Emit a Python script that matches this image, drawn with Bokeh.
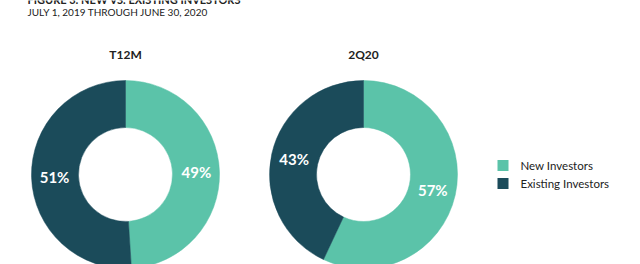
import math
from bokeh.plotting import figure
from bokeh.models import Range1d, ColumnDataSource
from bokeh.core.properties import value
from bokeh.embed import file_html
from bokeh.resources import INLINE

# ---- data ----
periods = ["T12M", "2Q20"]
new_investors = [49, 57]
existing_investors = [51, 43]
series_names = ["New Investors", "Existing Investors"]
title = "FIGURE 3: NEW VS. EXISTING INVESTORS"
subtitle = "JULY 1, 2019 THROUGH JUNE 30, 2020"

# ---- style / layout ----
W, H = 640, 264
NEW_C = "#5bc3a9"
EXIST_C = "#1b4b5a"
TEXT_C = "#222222"
FONT = "Lato"
centers_px = [(125, 174), (363, 174)]
R_OUT, R_IN = 94, 47
R_LBL = 71

def Y(py):
    return H - py

p = figure(width=W, height=H, x_range=Range1d(0, W), y_range=Range1d(0, H),
           output_backend="svg", toolbar_location=None, min_border=0,
           outline_line_color=None)
p.axis.visible = False
p.grid.visible = False
p.background_fill_color = "white"

wx, wy, s_ang, e_ang, cols = [], [], [], [], []
lx, ly, lt = [], [], []
for (cx, cy), nv, ev in zip(centers_px, new_investors, existing_investors):
    tot = nv + ev
    fn = nv / tot
    top = math.pi / 2
    wx += [cx, cx]; wy += [Y(cy), Y(cy)]
    s_ang += [top - fn * 2 * math.pi, top]
    e_ang += [top, top - fn * 2 * math.pi + 2 * math.pi]
    cols += [NEW_C, EXIST_C]
    m_new = top - fn * math.pi
    m_ex = top - fn * 2 * math.pi - (1 - fn) * math.pi
    for m, v in ((m_new, nv), (m_ex, ev)):
        lx.append(cx + R_LBL * math.cos(m))
        ly.append(Y(cy) + R_LBL * math.sin(m))
        lt.append(f"{v}%")

src = ColumnDataSource(dict(x=wx, y=wy, s=s_ang, e=e_ang, c=cols))
p.annular_wedge(x="x", y="y", inner_radius=R_IN, outer_radius=R_OUT,
                start_angle="s", end_angle="e", fill_color="c",
                line_color="c", line_width=0.5, source=src)

p.text(x=lx, y=ly, text=lt, text_color="white", text_font=value(FONT),
       text_font_style="bold", text_font_size="15px",
       text_align="center", text_baseline="middle")

# period titles
p.text(x=[c[0] for c in centers_px], y=[Y(54)] * 2, text=periods,
       text_color=TEXT_C, text_font=value(FONT), text_font_style="bold",
       text_font_size="12px", text_align="center", text_baseline="middle")

# figure title (cut off at the top edge, as in the reference) and subtitle
p.text(x=[27], y=[Y(5)], text=[title], text_color=TEXT_C, text_font=value(FONT),
       text_font_style="bold", text_font_size="11px", text_align="left",
       text_baseline="bottom")
p.text(x=[27], y=[Y(11)], text=[subtitle], text_color=TEXT_C, text_font=value(FONT),
       text_font_size="10px", text_align="left", text_baseline="middle")

# legend
leg_y = [165, 183]
p.rect(x=[502.5, 502.5], y=[Y(v) for v in leg_y], width=11, height=11,
       fill_color=[NEW_C, EXIST_C], line_color=None)
p.text(x=[520, 520], y=[Y(v) for v in leg_y], text=series_names,
       text_color=TEXT_C, text_font=value(FONT), text_font_size="11.5px",
       text_align="left", text_baseline="middle")

open("out.html", "w").write(file_html(p, INLINE))
